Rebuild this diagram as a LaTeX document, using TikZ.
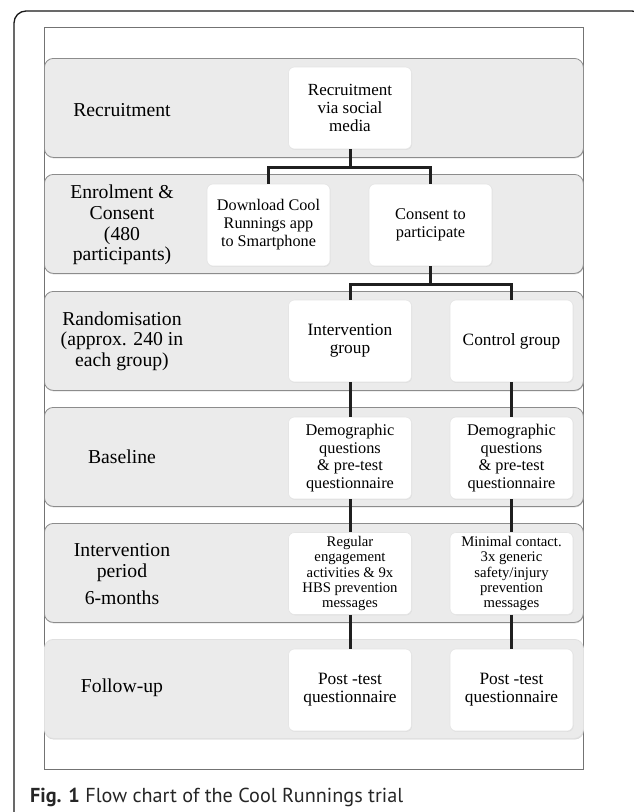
\documentclass[tikz,border=0pt]{standalone}
\usepackage{fontspec}
\setmainfont{Liberation Serif}
\newfontfamily\capfont{PT Sans}
\usepackage{tikz}
\usetikzlibrary{shadows}

\begin{document}
\begin{tikzpicture}[x=1pt,y=1pt]
\tikzstyle{every node}+=[inner sep=0pt]
\tikzstyle{band}=[draw=black!45, fill=black!8, rounded corners=9pt, line width=0.8pt, minimum width=539pt, minimum height=99pt, anchor=north west, drop shadow={shadow xshift=0.4pt, shadow yshift=-1pt, fill=black!35}]
\tikzstyle{box}=[draw=black!10, fill=white, rounded corners=6pt, line width=0.6pt, minimum width=123pt, minimum height=82pt, align=center, drop shadow={shadow xshift=0.6pt, shadow yshift=-0.8pt, fill=black!18}]
\tikzstyle{phase}=[align=center, font=\fontsize{19.7}{20.7}\selectfont]
\tikzstyle{link}=[line width=3pt, black!88]
\useasboundingbox (0,0) rectangle (633,-812);
\fill [white] (0,0) rectangle (633,-812);
% outer frame and inner panel
\draw [black!90, line width=1.3pt, rounded corners=12pt] (14,-830) -- (14,-11) -- (644,-11) -- (644,-830);
\draw [black!55, line width=0.8pt] (44,-27) rectangle (583,-769);
% phase bands
\node [band] (b1) at (44,-58) {};
\node [band] (b2) at (44,-174) {};
\node [band] (b3) at (44,-291) {};
\node [band] (b4) at (44,-407) {};
\node [band] (b5) at (44,-523) {};
\node [band, draw=black!12, drop shadow={shadow xshift=0.4pt, shadow yshift=-1pt, fill=black!12}] (b6) at (44,-639) {};
% phase labels
\node [phase] (l1) at (122,-110) {Recruitment};
\node [phase] (l2) at (122,-225) {Enrolment \&\\Consent\\(480\\participants)};
\node [phase] (l3) at (122,-341) {Randomisation\\(approx. 240 in\\each group)};
\node [phase] (l4) at (122,-457) {Baseline};
\node [phase] (l5) at (122,-574) {Intervention\\period\\[6pt]6-months};
\node [phase] (l6) at (122,-688) {Follow-up};
% boxes
\node [box, font=\fontsize{17}{17.8}\selectfont] (recr) at (350,-108) {Recruitment\\via social\\media};
\node [box, font=\fontsize{16.2}{18}\selectfont] (dl) at (268.5,-225) {Download Cool\\Runnings app\\to Smartphone};
\node [box, font=\fontsize{16.4}{18}\selectfont] (cons) at (430.5,-225) {Consent to\\participate};
\node [box, font=\fontsize{17.3}{18}\selectfont] (intv) at (350,-341) {Intervention\\group};
\node [box, font=\fontsize{17.3}{18}\selectfont] (ctrl) at (511.5,-341) {Control group};
\node [box, font=\fontsize{16.3}{17.4}\selectfont] (base1) at (350,-458) {Demographic\\questions\\\& pre-test\\questionnaire};
\node [box, font=\fontsize{16.3}{17.4}\selectfont] (base2) at (511.5,-458) {Demographic\\questions\\\& pre-test\\questionnaire};
\node [box, font=\fontsize{14.7}{15.4}\selectfont] (per1) at (350,-573.5) {Regular\\engagement\\activities \& 9x\\HBS prevention\\messages};
\node [box, font=\fontsize{14.7}{15.4}\selectfont] (per2) at (511.5,-573.5) {Minimal contact.\\3x generic\\safety/injury\\prevention\\messages};
\node [box, font=\fontsize{17.3}{18}\selectfont] (post1) at (350,-690) {Post -test\\questionnaire};
\node [box, font=\fontsize{17.3}{18}\selectfont] (post2) at (511.5,-690) {Post -test\\questionnaire};
% connectors
\coordinate (j1) at (350,-167);
\coordinate (j2) at (430.5,-284);
\draw [link] (recr) -- (j1);
\draw [link] (dl.north) |- (j1) -| (cons.north);
\draw [link] (cons) -- (j2);
\draw [link] (intv.north) |- (j2) -| (ctrl.north);
\draw [link] (intv) -- (base1);
\draw [link] (ctrl) -- (base2);
\draw [link] (base1) -- (per1);
\draw [link] (base2) -- (per2);
\draw [link] (per1) -- (post1);
\draw [link] (per2) -- (post2);
% caption
\node [anchor=west, text=black!85, font=\capfont\fontsize{20.2}{20.2}\selectfont] (cap) at (30,-797) {\textbf{Fig. 1} Flow chart of the Cool Runnings trial};
\end{tikzpicture}
\end{document}
